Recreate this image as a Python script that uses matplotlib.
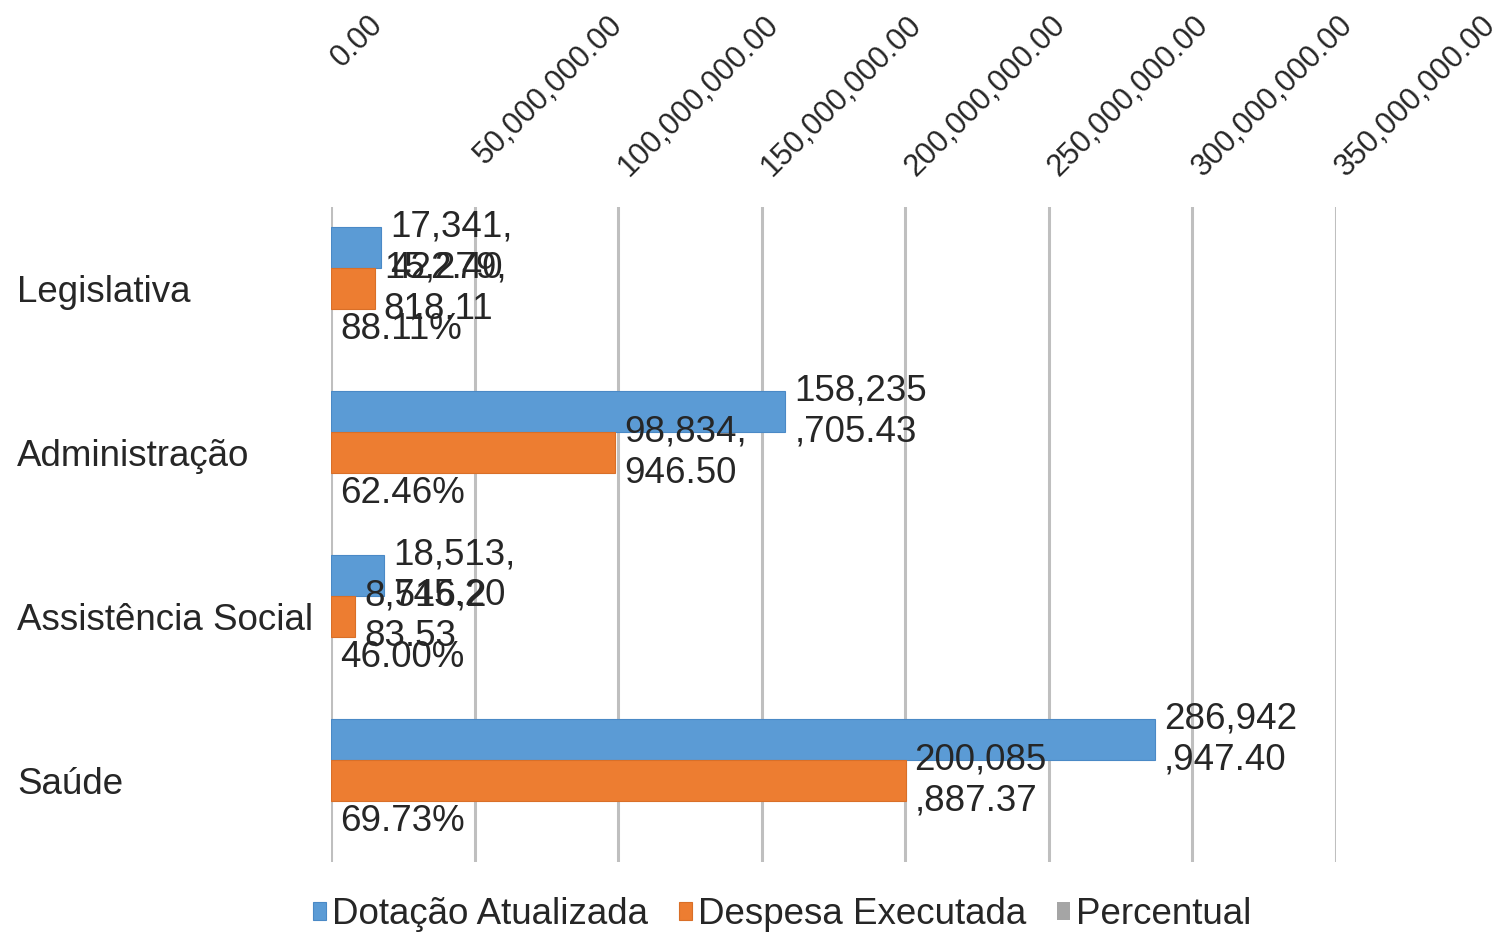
import textwrap
import matplotlib
matplotlib.use('Agg')
import matplotlib.pyplot as plt
import matplotlib.transforms as mtransforms
import numpy as np

categories = ['Legislativa', 'Administração', 'Assistência Social', 'Saúde']
dotacao = [17341422.40, 158235705.43, 18513745.20, 286942947.40]
despesa = [15279818.11, 98834946.50, 8516283.53, 200085887.37]
percentual = [0.8811, 0.6246, 0.4600, 0.6973]
series_names = ['Dotação Atualizada', 'Despesa Executada', 'Percentual']
xticks = [0, 50e6, 100e6, 150e6, 200e6, 250e6, 300e6, 350e6]

plt.rcParams['font.family'] = ['Liberation Sans', 'DejaVu Sans']
txt = '#262626'
fs = 26.5

fig = plt.figure(figsize=(15.03, 9.35), dpi=100)
ax = fig.add_axes([331/1503, 1 - 862/935, (1336 - 331)/1503, (862 - 207)/935])

y = np.arange(len(categories))
h = 0.25
b1 = ax.barh(y - 0.25, dotacao, height=h, color='#5B9BD5', edgecolor='#4a89c6',
             linewidth=0.8, label=series_names[0], zorder=3)
b2 = ax.barh(y, despesa, height=h, color='#ED7D31', edgecolor='#d96f28',
             linewidth=0.8, label=series_names[1], zorder=3)
b3 = ax.barh(y + 0.25, percentual, height=h, color='#A5A5A5',
             label=series_names[2], zorder=3)

def money(v):
    # excel wraps the labels after 7 characters
    return '\n'.join(textwrap.wrap(f'{v:,.2f}', 7))

off = 9 * 3.5e8 / 1005
for yy, v in zip(y - 0.25, dotacao):
    ax.text(v + off, yy, money(v), va='center', ha='left', fontsize=fs,
            color=txt, linespacing=1.22, zorder=4)
for yy, v in zip(y, despesa):
    ax.text(v + off, yy, money(v), va='center', ha='left', fontsize=fs,
            color=txt, linespacing=1.22, zorder=4)
for yy, v in zip(y + 0.25, percentual):
    ax.text(v + off, yy, f'{v*100:.2f}%', va='center', ha='left', fontsize=fs,
            color=txt, zorder=4)

ax.set_xlim(0, 3.5e8)
ax.set_ylim(3.5, -0.5)
ax.set_xticks(xticks)
ax.set_xticklabels([f'{t:,.2f}' for t in xticks])
ax.xaxis.tick_top()
ax.tick_params(axis='x', top=True, bottom=False, labeltop=True, labelbottom=False,
               length=0, pad=142, labelsize=22, labelcolor=txt)
shift = mtransforms.ScaledTranslation(-6/100, 0, fig.dpi_scale_trans)
for lab in ax.get_xticklabels():
    lab.set_rotation(45)
    lab.set_ha('left')
    lab.set_va('top')
    lab.set_transform(lab.get_transform() + shift)
ax.set_yticks(y)
ax.set_yticklabels(categories)
ax.tick_params(axis='y', length=0, pad=226, labelsize=fs, labelcolor=txt)
for lab in ax.get_yticklabels():
    lab.set_ha('left')

ax.grid(axis='x', color='#bfbfbf', linewidth=2.2, zorder=0)
ax.set_axisbelow(True)
for s in ax.spines.values():
    s.set_visible(False)

leg = fig.legend(handles=[b1, b2, b3], loc='center', bbox_to_anchor=(782/1503, 1 - 915/935),
                 ncol=3, frameon=False, fontsize=fs, handlelength=0.36, handleheight=0.36,
                 handletextpad=0.15, columnspacing=0.85, labelcolor=txt, borderpad=0)

fig.savefig('out.png', dpi=100)
